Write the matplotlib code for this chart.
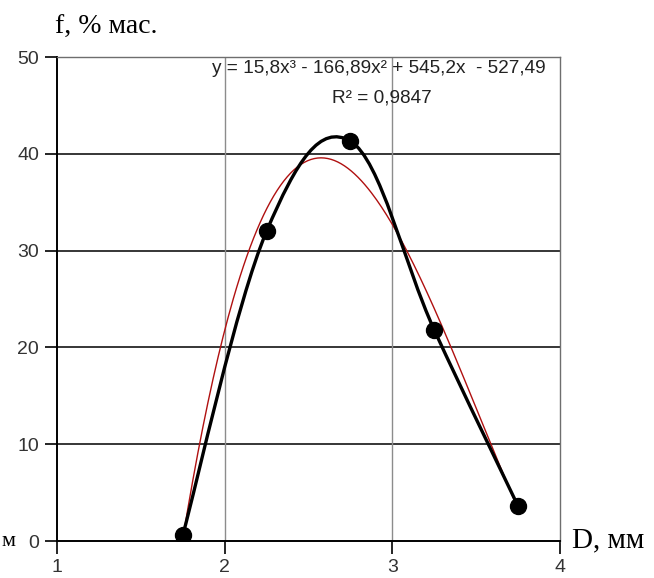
import numpy as np
import matplotlib
matplotlib.use("Agg")
import matplotlib.pyplot as plt
from matplotlib.path import Path
from matplotlib.patches import PathPatch

# data
d_mm = [1.75, 2.25, 2.75, 3.25, 3.75]
f_pct = [0.6, 32.0, 41.3, 21.8, 3.6]
trend_coef = [15.8, -166.89, 545.2, -527.49]
x_ticks = [1, 2, 3, 4]
y_ticks = [0, 10, 20, 30, 40, 50]
eq_text = "y = 15,8x³ - 166,89x² + 545,2x  - 527,49"
r2_text = "R² = 0,9847"


def smooth_path(xs, ys, k=0.18):
    """Excel-like smoothed line as cubic Bezier segments."""
    pts = np.column_stack([xs, ys])
    n = len(pts)
    verts = [pts[0]]
    codes = [Path.MOVETO]
    for i in range(n - 1):
        p0 = pts[max(i - 1, 0)]
        p1 = pts[i]
        p2 = pts[i + 1]
        p3 = pts[min(i + 2, n - 1)]
        verts += [p1 + (p2 - p0) * k, p2 - (p3 - p1) * k, p2]
        codes += [Path.CURVE4] * 3
    return Path(verts, codes)


fig = plt.figure(figsize=(6.54, 5.78), dpi=100)
ax = fig.add_axes([57 / 654, 37 / 578, 503 / 654, 484 / 578])
ax.set_xlim(1, 4)
ax.set_ylim(0, 50)

# grid: black horizontal, grey vertical
for y in y_ticks[1:-1]:
    ax.axhline(y, color="black", lw=1.1, zorder=1)
for x in x_ticks[1:-1]:
    ax.axvline(x, color="#8c8c8c", lw=1.0, zorder=1)

for s in ["top", "right"]:
    ax.spines[s].set_color("#6e6e6e")
    ax.spines[s].set_linewidth(1.0)
for s in ["left", "bottom"]:
    ax.spines[s].set_color("black")
    ax.spines[s].set_linewidth(1.4)

ax.set_xticks(x_ticks)
ax.set_yticks(y_ticks)
ax.tick_params(direction="out", length=9, width=1.2, labelsize=14,
               colors="black", pad=4)
for lab in ax.get_xticklabels() + ax.get_yticklabels():
    lab.set_family("Liberation Sans")
    lab.set_color("#333333")

# trendline from displayed polynomial
xt = np.linspace(d_mm[0], d_mm[-1], 200)
ax.plot(xt, np.polyval(trend_coef, xt), color="#b01010", lw=1.0, zorder=3)

# smoothed data line
ax.add_patch(PathPatch(smooth_path(d_mm, f_pct), fill=False,
                       edgecolor="black", lw=2.4, zorder=4))
ax.plot(d_mm, f_pct, "o", color="black", ms=11.5, zorder=5)

ax.text(2.92, 48.85, eq_text, ha="center", va="center", fontsize=13.7,
        family="Liberation Sans", color="#222222")
ax.text(2.94, 45.75, r2_text, ha="center", va="center", fontsize=13.7,
        family="Liberation Sans", color="#222222")

fig.text(55 / 654, 1 - 27 / 578, "f, % мас.", ha="left", va="center",
         fontsize=20, family="Liberation Serif")
fig.text(572 / 654, 1 - 540 / 578, "D, мм", ha="left", va="center",
         fontsize=21, family="Liberation Serif")
fig.text(1 / 654, 1 - 541 / 578, "м", ha="left", va="center",
         fontsize=16, family="Liberation Serif")

fig.savefig("out.png", dpi=100)
